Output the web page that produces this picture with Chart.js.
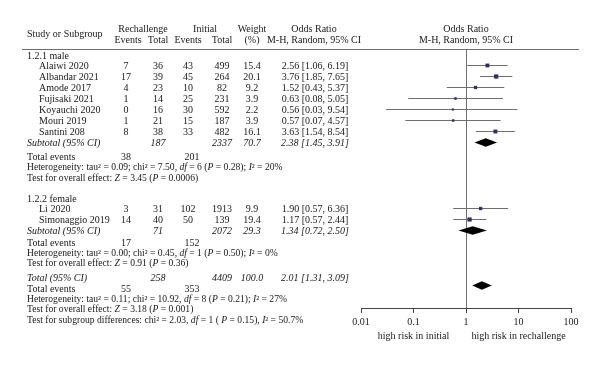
<!DOCTYPE html>
<html>
<head>
<meta charset="utf-8">
<script src="https://cdn.jsdelivr.net/npm/chart.js@4.4.1/dist/chart.umd.min.js"></script>
<style>
  html, body { margin: 0; padding: 0; background: #fff; }
  #wrap { width: 600px; height: 365px; }
</style>
</head>
<body>
<div id="wrap"><canvas id="myChart" width="600" height="365"></canvas></div>
<script>
// study level data
const studyNames = ['Alaiwi 2020', 'Albandar 2021', 'Amode 2017', 'Fujisaki 2021', 'Koyauchi 2020', 'Mouri 2019', 'Santini 208', 'Li 2020', 'Simonaggio 2019'];
const rechEvents = [7, 17, 4, 1, 0, 1, 8, 3, 14];
const rechTotal = [36, 39, 23, 14, 16, 21, 38, 31, 40];
const initEvents = [43, 45, 10, 25, 30, 15, 33, 102, 50];
const initTotal = [499, 264, 82, 231, 592, 187, 482, 1913, 139];
const weights = [15.4, 20.1, 9.2, 3.9, 2.2, 3.9, 16.1, 9.9, 19.4];
const oddsRatio = [2.56, 3.76, 1.52, 0.63, 0.56, 0.57, 3.63, 1.90, 1.17];
const ciLow = [1.06, 1.85, 0.43, 0.08, 0.03, 0.07, 1.54, 0.57, 0.57];
const ciHigh = [6.19, 7.65, 5.37, 5.05, 9.54, 4.57, 8.54, 6.36, 2.44];

// subtotal / total data (male, female, overall)
const sumLabels = ['Subtotal (95% CI)', 'Subtotal (95% CI)', 'Total (95% CI)'];
const sumRechTotal = [187, 71, 258];
const sumInitTotal = [2337, 2072, 4409];
const sumWeight = ['70.7', '29.3', '100.0'];
const sumOr = [2.38, 1.34, 2.01];
const sumLow = [1.45, 0.72, 1.31];
const sumHigh = [3.91, 2.50, 3.09];
const sumRechEvents = [38, 17, 55];
const sumInitEvents = [201, 152, 353];
const heterogeneity = [
  'Heterogeneity: tau² = 0.09; chi² = 7.50, *df* = 6 (*P* = 0.28); *I*² = 20%',
  'Heterogeneity: tau² = 0.00; chi² = 0.45, *df* = 1 (*P* = 0.50); *I*² = 0%',
  'Heterogeneity: tau² = 0.11; chi² = 10.92, *df* = 8 (*P* = 0.21); *I*² = 27%'
];
const overallTest = [
  'Test for overall effect: *Z* = 3.45 (*P* = 0.0006)',
  'Test for overall effect: *Z* = 0.91 (*P* = 0.36)',
  'Test for overall effect: *Z* = 3.18 (*P* = 0.001)'
];
const subgroupTest = 'Test for subgroup differences: chi² = 2.03, *df* = 1 ( *P* = 0.15), *I*² = 50.7%';

const tickValues = [0.01, 0.1, 1, 10, 100];
const tickLabels = ['0.01', '0.1', '1', '10', '100'];

// row positions (in line units from the header rule)
const studyRows = [1.5, 2.5, 3.5, 4.5, 5.5, 6.5, 7.5, 14.5, 15.5];
const sumRows = [8.5, 16.5, 21.5];

const FONT = '"Liberation Serif", "DejaVu Serif", serif';
const TEXT = '#1a1718';
const NAVY = '#2e2b6e';
const GREY = '#6d6e71';

const fmt2 = (v) => v.toFixed(2);
const orText = (o, l, h) => `${fmt2(o)} [${fmt2(l)}, ${fmt2(h)}]`;

function setFont(ctx, italic, size) {
  ctx.font = (italic ? 'italic ' : '') + (size || 10) + 'px ' + FONT;
}

// draws text where parts between * are switched to italic
function drawRich(ctx, str, x, y, align, italic, size) {
  const parts = str.split('*');
  const widths = parts.map((p, i) => {
    setFont(ctx, i % 2 === 1 ? !italic : italic, size);
    return ctx.measureText(p).width;
  });
  const total = widths.reduce((a, b) => a + b, 0);
  let cx = align === 'center' ? x - total / 2 : (align === 'right' ? x - total : x);
  ctx.textAlign = 'left';
  parts.forEach((p, i) => {
    setFont(ctx, i % 2 === 1 ? !italic : italic, size);
    ctx.fillText(p, cx, y);
    cx += widths[i];
  });
}

const tablePlugin = {
  id: 'forestTable',
  afterDatasetsDraw(chart) {
    const ctx = chart.ctx;
    const xs = chart.scales.x;
    const ys = chart.scales.y;
    const rowY = (r) => ys.getPixelForValue(r);

    // summary diamonds
    ctx.save();
    ctx.fillStyle = '#000';
    sumOr.forEach((o, i) => {
      const y = rowY(sumRows[i]);
      const h = 4.2;
      ctx.beginPath();
      ctx.moveTo(xs.getPixelForValue(sumLow[i]), y);
      ctx.lineTo(xs.getPixelForValue(o), y - h);
      ctx.lineTo(xs.getPixelForValue(sumHigh[i]), y);
      ctx.lineTo(xs.getPixelForValue(o), y + h);
      ctx.closePath();
      ctx.fill();
    });
    ctx.restore();
  },
  afterDraw(chart) {
    const ctx = chart.ctx;
    const xs = chart.scales.x;
    const ys = chart.scales.y;
    const ty = (r) => ys.getPixelForValue(r) + 1;
    const col = { name: 39, section: 27, rEv: 126, rTot: 158, iEv: 188, iTot: 222, w: 252, or: 314, plot: xs.getPixelForValue(1) };
    const put = (t, x, r, align, italic, size) => drawRich(ctx, String(t), x, ty(r), align || 'center', !!italic, size);

    ctx.save();
    ctx.fillStyle = TEXT;
    ctx.textBaseline = 'middle';

    // header rule
    ctx.strokeStyle = GREY;
    ctx.lineWidth = 1.2;
    ctx.beginPath();
    ctx.moveTo(22, Math.round(ys.getPixelForValue(0)) + 0.5);
    ctx.lineTo(579, Math.round(ys.getPixelForValue(0)) + 0.5);
    ctx.stroke();

    // header
    put('Study or Subgroup', col.section, -1.4, 'left');
    put('Rechallenge', 143, -1.9);
    put('Initial', 205, -1.9);
    put('Weight', col.w, -1.9);
    put('Odds Ratio', col.or, -1.9);
    put('Odds Ratio', col.plot, -1.9);
    put('Events', col.rEv + 2, -0.85);
    put('Total', col.rTot, -0.85);
    put('Events', col.iEv, -0.85);
    put('Total', col.iTot, -0.85);
    put('(%)', col.w, -0.85);
    put('M-H, Random, 95% CI', col.or, -0.85);
    put('M-H, Random, 95% CI', col.plot, -0.85);

    // sections
    put('1.2.1 male', col.section, 0.6, 'left');
    put('1.2.2 female', col.section, 13.55, 'left');

    studyNames.forEach((n, i) => {
      const r = studyRows[i];
      put(n, col.name, r, 'left');
      put(rechEvents[i], col.rEv, r);
      put(rechTotal[i], col.rTot, r);
      put(initEvents[i], col.iEv, r);
      put(initTotal[i], col.iTot, r);
      put(weights[i].toFixed(1), col.w, r);
      put(orText(oddsRatio[i], ciLow[i], ciHigh[i]), col.or + 1, r);
    });

    // summary rows: [label row, events row, heterogeneity row, test row]
    const sumText = [[8.5, 9.75, 10.7, 11.65], [16.5, 17.6, 18.5, 19.45], [20.8, 21.75, 22.65, 23.6]];
    const small = 9.6;
    sumLabels.forEach((lab, i) => {
      const [rl, re, rh, rt] = sumText[i];
      put(lab, col.section, rl, 'left', true);
      put(sumRechTotal[i], col.rTot, rl, 'center', true);
      put(sumInitTotal[i], col.iTot, rl, 'center', true);
      put(sumWeight[i], col.w, rl, 'center', true);
      put(orText(sumOr[i], sumLow[i], sumHigh[i]), col.or + 1, rl, 'center', true);
      put('Total events', col.section, re, 'left');
      put(sumRechEvents[i], col.rEv, re);
      put(sumInitEvents[i], 192, re);
      put(heterogeneity[i], col.section, rh, 'left', false, small);
      put(overallTest[i], col.section, rt, 'left', false, small);
    });
    put(subgroupTest, col.section, 24.6, 'left', false, small);

    // direction labels under the axis
    put('high risk in initial', xs.getPixelForValue(0.1), 26.0);
    put('high risk in rechallenge', xs.getPixelForValue(10), 26.0);
    ctx.restore();
  }
};

const ciSets = studyNames.map((n, i) => ({
  type: 'line',
  label: n,
  data: [{ x: ciLow[i], y: studyRows[i] }, { x: ciHigh[i], y: studyRows[i] }],
  borderColor: GREY,
  borderWidth: 1,
  pointRadius: 0,
  order: 2
}));

new Chart(document.getElementById('myChart'), {
  type: 'scatter',
  data: {
    datasets: [{
      label: 'Odds ratio',
      data: oddsRatio.map((o, i) => ({ x: o, y: studyRows[i] })),
      pointStyle: 'rect',
      pointRadius: weights.map(w => (1.1 + Math.sqrt(w) * 0.7) / Math.SQRT2),
      backgroundColor: NAVY,
      borderColor: NAVY,
      borderWidth: 0,
      order: 0
    }].concat(ciSets)
  },
  options: {
    responsive: false,
    animation: false,
    events: [],
    layout: { padding: { left: 361, right: 29, top: 49, bottom: 0 } },
    plugins: { legend: { display: false }, tooltip: { enabled: false } },
    scales: {
      x: {
        type: 'logarithmic',
        min: 0.01,
        max: 100,
        afterBuildTicks: (axis) => { axis.ticks = tickValues.map(v => ({ value: v })); },
        afterFit: (axis) => { axis.height = 57; },
        ticks: {
          autoSkip: false,
          maxRotation: 0,
          padding: 3,
          color: TEXT,
          font: { family: FONT, size: 10 },
          callback: (v) => tickLabels[tickValues.indexOf(v)]
        },
        grid: {
          color: (c) => (c.tick && c.tick.value === 1 ? GREY : 'rgba(0,0,0,0)'),
          lineWidth: 1,
          tickColor: '#444',
          tickLength: 5,
          drawTicks: true
        },
        border: { display: true, color: '#444', width: 1 }
      },
      y: {
        type: 'linear',
        display: false,
        reverse: true,
        min: 0,
        max: 259 / 11
      }
    }
  },
  plugins: [tablePlugin]
});
</script>
</body>
</html>
